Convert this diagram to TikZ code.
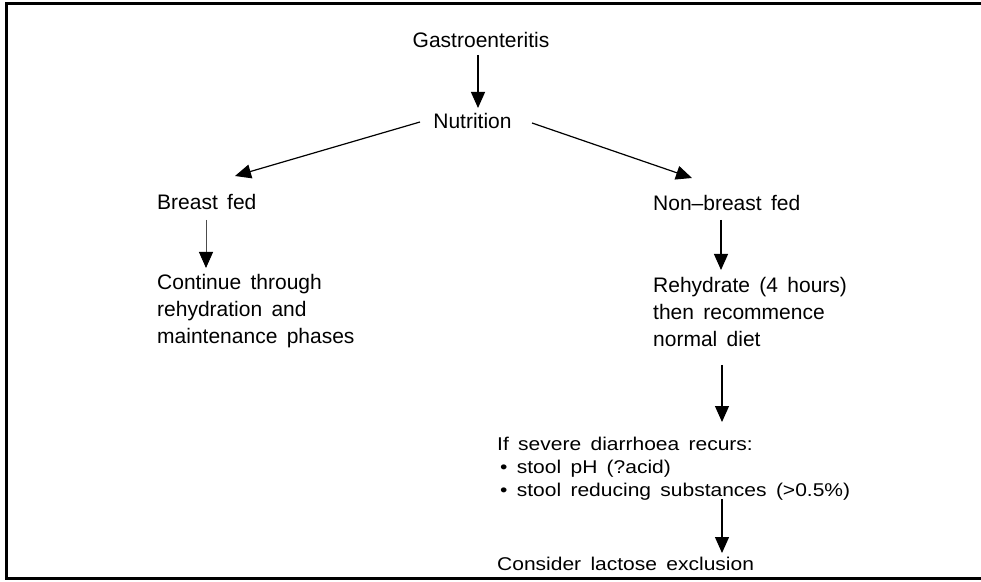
\documentclass[tikz,border=0pt]{standalone}
\usepackage{fontspec}
\setmainfont[WordSpace=1.6]{Liberation Sans}
\usetikzlibrary{arrows.meta}
\begin{document}
\begin{tikzpicture}[x=1pt,y=1pt,
  lbl/.style={inner sep=0pt, font=\fontsize{21}{27.4}\selectfont, align=left},
  lbls/.style={inner sep=0pt, font=\fontsize{21}{26}\selectfont, align=left, yscale=0.88, transform shape},
  arr/.style={-{Triangle[width=14pt,length=16pt]}, line width=1.2pt},
  thinarr/.style={-{Triangle[width=14pt,length=16pt,color=black]}, line width=0.9pt, draw=black!70},
  frame/.style={line width=3pt}]
\useasboundingbox (0,0) rectangle (981,581);
\draw[frame] (981,577) -- (6,577) -- (6,3) -- (981,3);

\node[lbl, anchor=base] (g) at (481,533) {Gastroenteritis};
\node[lbl, anchor=base] (n) at (472.5,452) {Nutrition};
\node[lbl, anchor=base west] (b) at (157,371) {Breast fed};
\node[lbl, anchor=base west] (c) at (157,237) {Continue through\\rehydration and\\maintenance phases};
\node[lbl, anchor=base west] (nb) at (653,370) {Non–breast fed};
\node[lbl, anchor=base west] (r) at (653,234) {Rehydrate (4 hours)\\then recommence\\normal diet};
\node[lbls, anchor=base west] (s) at (497,85) {If severe diarrhoea recurs:\\\hspace*{3pt}• stool pH (?acid)\\\hspace*{3pt}• stool reducing substances (>0.5\%)};
\node[lbls, anchor=base west] (cl) at (497,11) {Consider lactose exclusion};

\draw[arr] ([shift={(-3,-7)}]g.base) -- ([shift={(5.5,21)}]n.base);
\draw[arr] ([shift={(-52.5,7)}]n.base) -- ([shift={(78,34)}]b.base west);
\draw[arr] ([shift={(59.5,6)}]n.base) -- ([shift={(39,33)}]nb.base west);
\draw[thinarr] ([shift={(49,-10)}]b.base west) -- ([shift={(49,76)}]c.base west);
\draw[arr] ([shift={(68,-9)}]nb.base west) -- ([shift={(68,77)}]r.base west);
\draw[arr] ([shift={(69,-18)}]r.base west) -- ([shift={(225,74)}]s.base west);
\draw[arr] ([shift={(225,-3)}]s.base west) -- ([shift={(225,17)}]cl.base west);
\end{tikzpicture}
\end{document}
